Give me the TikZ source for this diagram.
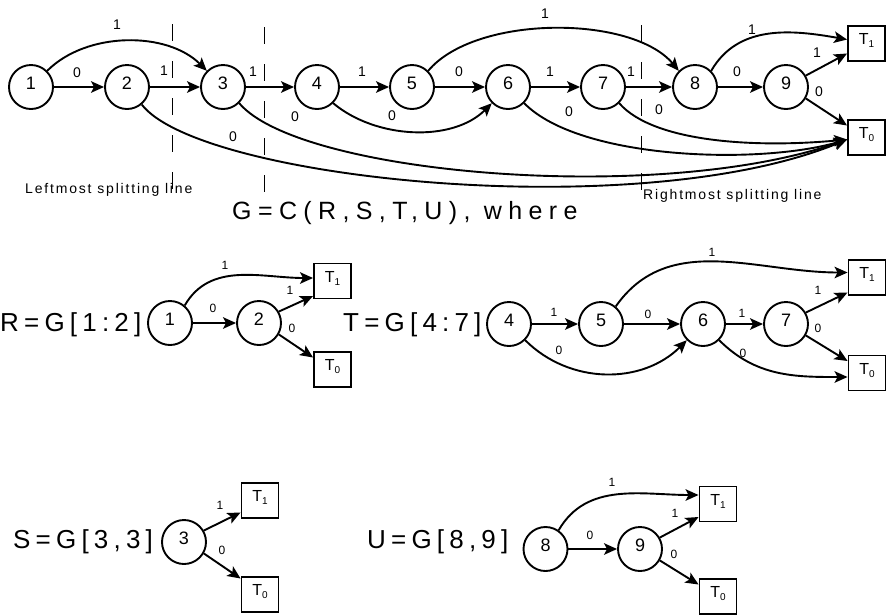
\documentclass[tikz,border=0pt]{standalone}
\usepackage{fontspec}
\setmainfont{Liberation Sans}
\newfontfamily\bigspc[LetterSpace=20]{Liberation Sans}
\newfontfamily\gspc[LetterSpace=25.5]{Liberation Sans}
\newfontfamily\smlspc[LetterSpace=13]{Liberation Sans}
\usetikzlibrary{arrows.meta}
\newcommand\nlab[1]{\raisebox{-2.5pt}[0pt][0pt]{#1}}
\newcommand\tlab[1]{\raisebox{-1pt}[0pt][0pt]{T\raisebox{-3pt}{\fontsize{10}{10}\selectfont #1}}}
\tikzset{
  nd/.style={circle, draw, line width=1.9pt, minimum size=44pt, inner sep=0pt, font=\fontsize{18}{18}\selectfont},
  tb/.style={rectangle, draw, line width=1.9pt, minimum width=37pt, minimum height=35pt, inner sep=0pt, font=\fontsize{16}{16}\selectfont},
  ed/.style={line width=1.9pt, -{Stealth[length=13pt,width=11.5pt,inset=3pt]}},
  el/.style={font=\fontsize{14}{14}\selectfont, inner sep=0pt},
  sl/.style={font=\fontsize{12}{12}\selectfont, inner sep=0pt},
  split/.style={line width=0.9pt, dash pattern=on 17pt off 20pt},
  bigt/.style={anchor=base west, inner sep=0pt, font=\bigspc\fontsize{26}{26}\selectfont},
  smlt/.style={anchor=base west, inner sep=0pt, font=\smlspc\fontsize{14}{14}\selectfont},
}
\begin{document}
\begin{tikzpicture}[x=1pt,y=-1pt]
\useasboundingbox (0,0) rectangle (886,614);
% ---------- splitting lines ----------
\draw[split] (172,24) -- (172,195);
\draw[split] (264,27) -- (264,195);
\draw[split] (641,25) -- (641,195);
\node[smlt] (ltxt) at (25,193) {Leftmost splitting line};
\node[smlt] (rtxt) at (643,199) {Rightmost splitting line};
\node[bigt, font=\gspc\fontsize{25}{25}\selectfont] (gtxt) at (232,219.5) {G=C(R,S,T,U), where};
% ---------- top graph ----------
\node[nd] (n1) at (31,87) {\nlab{1}};
\node[nd] (n2) at (127,87) {\nlab{2}};
\node[nd] (n3) at (223,87) {\nlab{3}};
\node[nd] (n4) at (317,87) {\nlab{4}};
\node[nd] (n5) at (412,87) {\nlab{5}};
\node[nd] (n6) at (508,87) {\nlab{6}};
\node[nd] (n7) at (603,87) {\nlab{7}};
\node[nd] (n8) at (695,87) {\nlab{8}};
\node[nd] (n9) at (786,87) {\nlab{9}};
\node[tb] (T1) at (866.5,43.5) {\tlab{1}};
\node[tb] (T0) at (866.5,137.5) {\tlab{0}};
\draw[ed] (n1) -- (n2);
\draw[ed] (n2) -- (n3);
\draw[ed] (n3) -- (n4);
\draw[ed] (n4) -- (n5);
\draw[ed] (n5) -- (n6);
\draw[ed] (n6) -- (n7);
\draw[ed] (n7) -- (n8);
\draw[ed] (n8) -- (n9);
\draw[ed] (n1.45) to[out=45,in=135,looseness=0.9] (n3.135);
\draw[ed] (n5.45) to[out=50,in=130,looseness=0.75] (n8.135);
\draw[ed] (n4.-45) to[out=-40,in=-135,looseness=0.9] (n6.-135);
\draw[ed] (n8.45) to[out=60,in=170] ([yshift=4pt]T1.west);
\draw[ed] (n9.30) -- ([yshift=-10pt]T1.west);
\draw[ed] (n9.-30) -- ([yshift=12pt]T0.west);
\draw[ed] (n2.-50) .. controls (200,180) and (640,225) .. ([yshift=-2pt]T0.west);
\draw[ed] (n3.-45) .. controls (300,175) and (660,205) .. ([yshift=-2pt]T0.west);
\draw[ed] (n6.-45) .. controls (580,160) and (760,165) .. ([yshift=-2pt]T0.west);
\draw[ed] (n7.-45) .. controls (654,143) and (758,148) .. ([yshift=-2pt]T0.west);
\node[el] (a1) at (117,25) {1};
\node[el] (a2) at (77,73) {0};
\node[el] (a3) at (164,71) {1};
\node[el] (a4) at (233,137) {0};
\node[el] (a5) at (253,72) {1};
\node[el] (a6) at (295,117) {0};
\node[el] (a7) at (362,72) {1};
\node[el] (a8) at (392,116) {0};
\node[el] (a9) at (459,72) {0};
\node[el] (a10) at (545,14) {1};
\node[el] (a11) at (550,72) {1};
\node[el] (a12) at (569,112) {0};
\node[el] (a13) at (631,72) {1};
\node[el] (a14) at (659,110) {0};
\node[el] (a15) at (737,72) {0};
\node[el] (a16) at (752,30) {1};
\node[el] (a17) at (817,53) {1};
\node[el] (a18) at (819,92) {0};
% ---------- R ----------
\node[bigt] (rtext) at (0,331) {R=G[1:2]};
\node[nd] (r1) at (170,323) {\nlab{1}};
\node[nd] (r2) at (259,323) {\nlab{2}};
\node[tb] (rT1) at (332.5,281) {\tlab{1}};
\node[tb] (rT0) at (332.5,369.5) {\tlab{0}};
\draw[ed] (r1.50) to[out=60,in=180] ([yshift=3pt]rT1.west);
\draw[ed] (r1) -- (r2);
\draw[ed] (r2.30) -- ([yshift=-15pt]rT1.west);
\draw[ed] (r2.-30) -- ([yshift=12pt]rT0.west);
\node[sl] (b1) at (225,265) {1};
\node[sl] (b2) at (213,308) {0};
\node[sl] (b3) at (290,290) {1};
\node[sl] (b4) at (292,328) {0};
% ---------- T ----------
\node[bigt] (ttext) at (343,331) {T=G[4:7]};
\node[nd] (t4) at (509,324) {\nlab{4}};
\node[nd] (t5) at (601,324) {\nlab{5}};
\node[nd] (t6) at (703,324) {\nlab{6}};
\node[nd] (t7) at (786,324) {\nlab{7}};
\node[tb] (tT1) at (867,277.5) {\tlab{1}};
\node[tb] (tT0) at (867,373) {\tlab{0}};
\draw[ed] (t4) -- (t5);
\draw[ed] (t5) -- (t6);
\draw[ed] (t6) -- (t7);
\draw[ed] (t5.50) to[out=55,in=180] ([yshift=5pt]tT1.west);
\draw[ed] (t4.-45) to[out=-45,in=-135] (t6.-135);
\draw[ed] (t7.30) -- ([yshift=-15pt]tT1.west);
\draw[ed] (t7.-30) -- ([yshift=12pt]tT0.west);
\draw[ed] (t6.-45) to[out=-45,in=180] ([yshift=-4pt]tT0.west);
\node[sl] (c1) at (712,252) {1};
\node[sl] (c2) at (554,312) {1};
\node[sl] (c3) at (648,314) {0};
\node[sl] (c4) at (742,313) {1};
\node[sl] (c5) at (559,350) {0};
\node[sl] (c6) at (743,353) {0};
\node[sl] (c7) at (818,290) {1};
\node[sl] (c8) at (818,328) {0};
% ---------- S ----------
\node[bigt] (stext) at (13,548) {S=G[3,3]};
\node[nd] (s3) at (184,542) {\nlab{3}};
\node[tb] (sT1) at (260,500.5) {\tlab{1}};
\node[tb] (sT0) at (260,594.5) {\tlab{0}};
\draw[ed] (s3.30) -- ([yshift=-12pt]sT1.west);
\draw[ed] (s3.-30) -- ([yshift=16pt]sT0.west);
\node[sl] (d1) at (220,505) {1};
\node[sl] (d2) at (222,550) {0};
% ---------- U ----------
\node[bigt] (utext) at (367,548) {U=G[8,9]};
\node[nd] (u8) at (545.5,549) {\nlab{8}};
\node[nd] (u9) at (640,549) {\nlab{9}};
\node[tb] (uT1) at (718,504) {\tlab{1}};
\node[tb] (uT0) at (718,596.5) {\tlab{0}};
\draw[ed] (u8.55) to[out=60,in=180] ([yshift=9pt]uT1.west);
\draw[ed] (u8) -- (u9);
\draw[ed] (u9.30) -- ([yshift=-13pt]uT1.west);
\draw[ed] (u9.-30) -- ([yshift=12pt]uT0.west);
\node[sl] (e1) at (612,482) {1};
\node[sl] (e2) at (590,535) {0};
\node[sl] (e3) at (675,513) {1};
\node[sl] (e4) at (674,554) {0};
\end{tikzpicture}
\end{document}
